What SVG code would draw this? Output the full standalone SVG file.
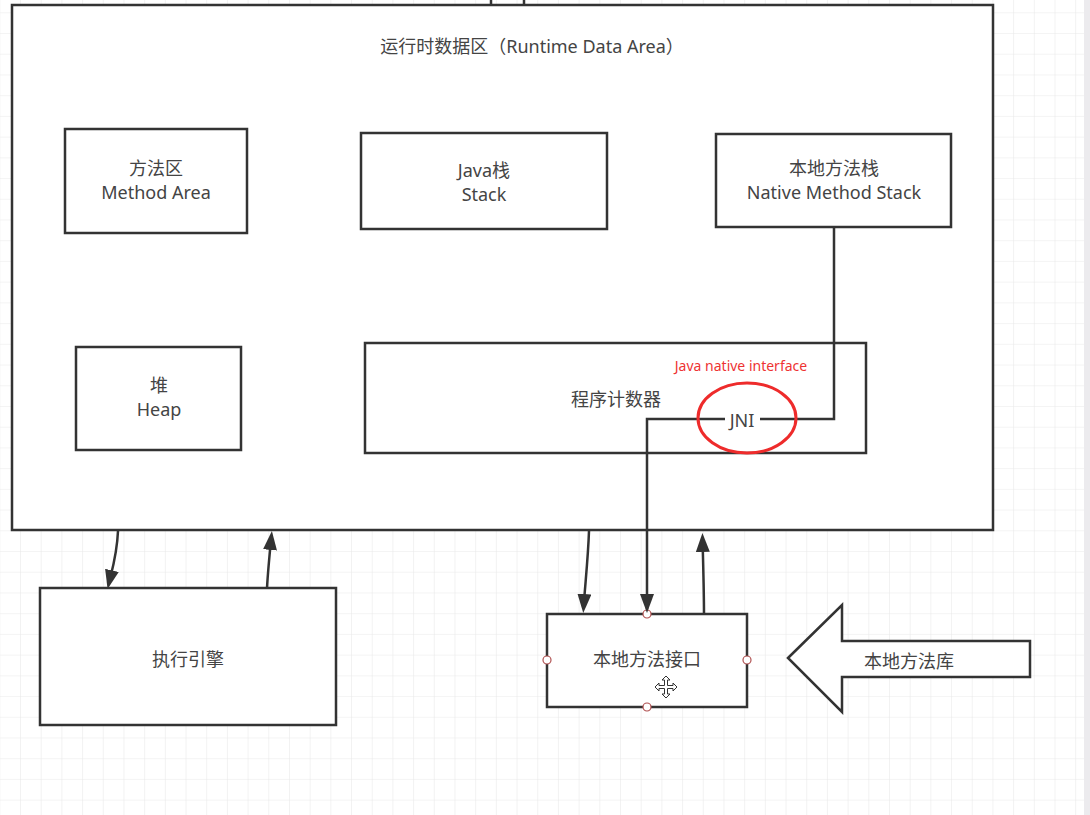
<svg xmlns="http://www.w3.org/2000/svg" width="1090" height="815" viewBox="0 0 1090 815">
<style>
.box{fill:#ffffff;stroke:#333333;stroke-width:2.5}
.t{font-family:"Noto Sans","Noto Sans CJK SC",sans-serif;font-size:18px;fill:#444444;text-anchor:middle}
.conn{fill:none;stroke:#333333;stroke-width:2.5}
.handle{fill:#ffffff;stroke:#b05050;stroke-width:1.2}
</style>
<defs>
<pattern id="grid" patternUnits="userSpaceOnUse" x="20" y="12.3" width="20.69" height="20.72">
<path d="M0,0 V20.72 M0,0 H20.69" fill="none" stroke="#e9e9e9" stroke-width="1.2"/>
</pattern>
<marker id="ah" markerUnits="userSpaceOnUse" markerWidth="20" markerHeight="14" refX="15" refY="7" orient="auto">
<path d="M0,0 L19,7 L0,14 Z" fill="#333333"/>
</marker>
</defs>
<rect x="0" y="0" width="1090" height="815" fill="#ffffff"/>
<rect x="0" y="0" width="1090" height="815" fill="url(#grid)"/>
<rect x="1084" y="0" width="6" height="815" fill="#ecebee"/>

<g id="runtime-data-area">
<rect class="box" x="12" y="5" width="981" height="525"/>
<text class="t" x="532" y="53" font-size="17.5">运行时数据区（Runtime Data Area）</text>
</g>

<g id="method-area">
<rect class="box" x="65" y="129" width="182" height="104"/>
<text class="t" x="156" y="175">方法区</text>
<text class="t" x="156" y="199">Method Area</text>
</g>

<g id="java-stack">
<rect class="box" x="361" y="133" width="246" height="96"/>
<text class="t" x="484" y="177">Java栈</text>
<text class="t" x="484" y="201">Stack</text>
</g>

<g id="native-method-stack">
<rect class="box" x="716" y="134" width="235" height="93"/>
<text class="t" x="834" y="175">本地方法栈</text>
<text class="t" x="834" y="199">Native Method Stack</text>
</g>

<g id="heap">
<rect class="box" x="76" y="347" width="165" height="103"/>
<text class="t" x="159" y="392">堆</text>
<text class="t" x="159" y="416">Heap</text>
</g>

<g id="program-counter">
<rect class="box" x="365" y="343" width="501" height="110"/>
<text class="t" x="616" y="406">程序计数器</text>
</g>

<g id="execution-engine">
<rect class="box" x="40" y="588" width="296" height="137"/>
<text class="t" x="188" y="666">执行引擎</text>
</g>

<g id="native-interface">
<rect class="box" x="547" y="614" width="200" height="93"/>
<text class="t" x="647" y="666">本地方法接口</text>
<circle class="handle" cx="647" cy="614" r="4"/>
<circle class="handle" cx="547" cy="660" r="4"/>
<circle class="handle" cx="747" cy="660" r="4"/>
<circle class="handle" cx="647" cy="707" r="4"/>
<path transform="translate(666,687)" d="M0,-11 L4,-7 L1.5,-7 L1.5,-1.5 L7,-1.5 L7,-4 L11,0 L7,4 L7,1.5 L1.5,1.5 L1.5,7 L4,7 L0,11 L-4,7 L-1.5,7 L-1.5,1.5 L-7,1.5 L-7,4 L-11,0 L-7,-4 L-7,-1.5 L-1.5,-1.5 L-1.5,-7 L-4,-7 Z" fill="#ffffff" stroke="#333333" stroke-width="1"/>
</g>

<g id="native-library">
<path d="M788,658 L842,605 L842,641 L1030,641 L1030,677 L842,677 L842,712 Z" fill="#ffffff" stroke="#333333" stroke-width="2.5" stroke-linejoin="miter"/>
<text class="t" x="909" y="668">本地方法库</text>
</g>

<g id="connectors">
<line class="conn" x1="491" y1="0" x2="491" y2="5"/>
<line class="conn" x1="524" y1="0" x2="524" y2="5"/>
<path class="conn" d="M118,531 C117,555 112,570 108.5,585" marker-end="url(#ah)"/>
<path class="conn" d="M267,588 C268,570 270,550 271.5,535" marker-end="url(#ah)"/>
<path class="conn" d="M589,531 C588,560 585,585 583.5,609" marker-end="url(#ah)"/>
<path class="conn" d="M704,614 C704,590 703,560 702.5,537" marker-end="url(#ah)"/>
<path class="conn" d="M834,227 V419 H760"/>
<path class="conn" d="M725,419 H647 V609" marker-end="url(#ah)"/>
<text class="t" x="742" y="427" font-size="17">JNI</text>
<ellipse cx="747" cy="418" rx="49" ry="35" fill="none" stroke="#ee2b2b" stroke-width="3"/>
<text x="741" y="371" font-family="Noto Sans, sans-serif" font-size="14" fill="#ee3333" text-anchor="middle">Java native interface</text>
</g>
</svg>
